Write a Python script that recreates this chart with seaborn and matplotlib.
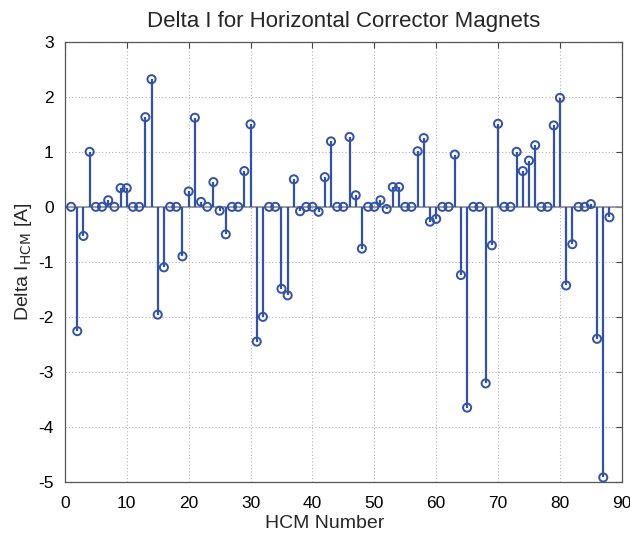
import matplotlib
matplotlib.use("Agg")
import matplotlib.pyplot as plt
import numpy as np
import pandas as pd
import seaborn as sns

# HCM index and corrector current change [A]
hcm_number = list(range(1, 89))
delta_i = [
    0.00, -2.26, -0.53, 1.00, 0.00, 0.00, 0.12, 0.00, 0.34, 0.34,
    0.00, 0.00, 1.63, 2.32, -1.96, -1.10, 0.00, 0.00, -0.90, 0.28,
    1.62, 0.09, 0.00, 0.45, -0.07, -0.50, 0.00, 0.00, 0.65, 1.50,
    -2.45, -2.00, 0.00, 0.00, -1.49, -1.61, 0.50, -0.08, 0.00, 0.00,
    -0.09, 0.54, 1.19, 0.00, 0.00, 1.27, 0.21, -0.76, 0.00, 0.00,
    0.12, -0.04, 0.36, 0.36, 0.00, 0.00, 1.01, 1.25, -0.27, -0.22,
    0.00, 0.00, 0.95, -1.24, -3.65, 0.00, 0.00, -3.21, -0.70, 1.51,
    0.00, 0.00, 1.00, 0.65, 0.84, 1.12, 0.00, 0.00, 1.48, 1.98,
    -1.43, -0.68, 0.00, 0.00, 0.05, -2.40, -4.92, -0.19,
]
x_ticks = list(range(0, 91, 10))
y_ticks = list(range(-5, 4))

df = pd.DataFrame({"hcm": hcm_number, "delta": delta_i})

sns.set_theme(style="white")
plt.rcParams["font.family"] = ["Liberation Sans", "DejaVu Sans"]
plt.rcParams["axes.unicode_minus"] = False

stem_color = "#3152a8"

fig = plt.figure(figsize=(6.3, 5.36), dpi=100)
ax = fig.add_axes([0.103, 0.101, 0.884, 0.821])

ax.grid(True, color="#b0b0b0", linestyle=(0, (1, 2)), linewidth=0.8)
ax.set_axisbelow(True)

# baseline and stems
ax.axhline(0, color="#8c8c8c", linewidth=1.2, zorder=2)
ax.vlines(df["hcm"], 0, df["delta"], color=stem_color, linewidth=1.6, zorder=3)
sns.scatterplot(data=df, x="hcm", y="delta", ax=ax, marker="o", s=34,
                facecolor="none", edgecolor=stem_color, linewidth=1.4,
                zorder=4, legend=False)

ax.set_xlim(0, 90)
ax.set_ylim(-5, 3)
ax.set_xticks(x_ticks)
ax.set_yticks(y_ticks)
ax.tick_params(direction="in", length=4, width=0.8, color="#444444",
               labelsize=12.5, labelcolor="black", top=True, right=True)
ax.tick_params(axis="x", pad=10)
ax.tick_params(axis="y", pad=8)
for s in ax.spines.values():
    s.set_color("#555555")
    s.set_linewidth(0.9)

ax.set_title("Delta I for Horizontal Corrector Magnets", fontsize=16, pad=11)
ax.set_xlabel("HCM Number", fontsize=14, labelpad=3)
ax.xaxis.set_label_coords(0.467, -0.075)
ax.set_ylabel(r"Delta I$_{\mathrm{HCM}}$ [A]", fontsize=14, labelpad=3)

fig.savefig("out.png", dpi=100)
